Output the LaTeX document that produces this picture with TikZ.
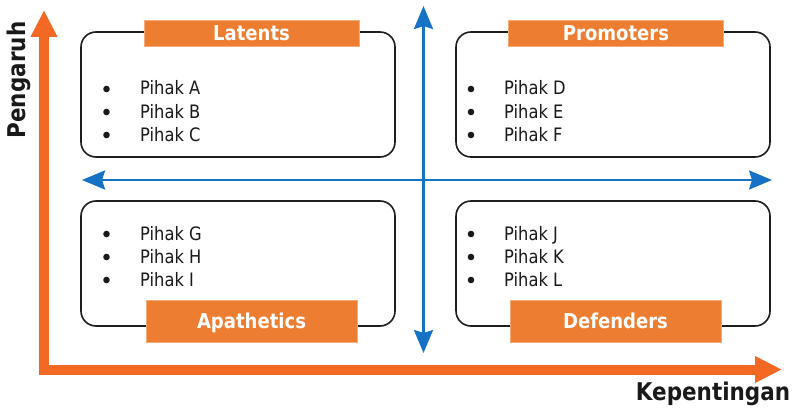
\documentclass[tikz,border=0pt]{standalone}
\usepackage{fontspec}
\setmainfont{DejaVu Sans}[FakeStretch=0.88]
\usetikzlibrary{arrows.meta}
\definecolor{orlab}{RGB}{237,125,49}
\definecolor{orline}{RGB}{246,170,120}
\definecolor{orarr}{RGB}{243,104,34}
\definecolor{blarr}{RGB}{22,114,196}
\definecolor{boxline}{RGB}{30,30,30}
\begin{document}
\begin{tikzpicture}[x=1pt,y=-1pt,
  quad/.style={draw=boxline,line width=1.6pt,rounded corners=15pt,minimum width=314pt,minimum height=125pt,inner sep=0pt},
  lab/.style={fill=orlab,draw=orline,line width=0.8pt,text=white,font=\fontsize{20.5}{22}\selectfont\bfseries,inner sep=0pt,minimum width=215pt,text height=15pt,text depth=0pt},
  toplab/.style={lab,minimum height=26pt},
  botlab/.style={lab,minimum height=42pt,minimum width=211pt},
  item/.style={anchor=base west,inner sep=0pt,font=\fontsize{18.5}{20}\selectfont,text=black!90},
  axis/.style={font=\fontsize{24.4}{26}\selectfont\bfseries,text=black!90,inner sep=0pt},
  orarrow/.style={draw=orarr,line width=10pt,line join=miter,{Triangle[length=27pt,width=25pt]}-{Triangle[length=27pt,width=25pt]}},
  blarrow/.style={draw=blarr,line width=2.6pt,{Stealth[length=23pt,width=19pt,inset=3pt]}-{Stealth[length=23pt,width=19pt,inset=3pt]}}
]
\useasboundingbox (0,0) rectangle (797,409);

% axes
\coordinate (otop) at (44,10);
\coordinate (ocorner) at (44,369.5);
\coordinate (oright) at (782,369.5);
\draw[orarrow] (otop) -- (ocorner) -- (oright);
\node[axis,rotate=90] (yl) at (18.5,80) {Pengaruh};
\node[axis,anchor=base] (xl) at (713,400) {Kepentingan};

% quadrant boxes
\node[quad] (tl) at (238,94.5) {};
\node[quad] (tr) at (613,94.5) {};
\node[quad] (bl) at (238,263.5) {};
\node[quad] (br) at (613,263.5) {};

% blue arrows
\coordinate (vt) at (423.5,6);
\coordinate (vb) at (423.5,353);
\coordinate (hl) at (82,180);
\coordinate (hr) at (772,180);
\draw[blarrow] (vt) -- (vb);
\draw[blarrow] (hl) -- (hr);

% labels
\node[toplab] (latents) at (251.5,33) {Latents};
\node[toplab] (promoters) at (616,33) {Promoters};
\node[botlab] (apathetics) at (251.5,321) {Apathetics};
\node[botlab] (defenders) at (615.5,321) {Defenders};

% items
\foreach \t/\y [count=\i] in {A/95,B/118,C/141}{
  \fill[black!90] (106.5,\y-6) circle (3.3pt);
  \node[item] (ta\i) at (140,\y) {Pihak \t};
}
\foreach \t/\y [count=\i] in {D/95,E/118,F/141}{
  \fill[black!90] (471,\y-6) circle (3.3pt);
  \node[item] (tb\i) at (504,\y) {Pihak \t};
}
\foreach \t/\y [count=\i] in {G/240,H/263,I/286}{
  \fill[black!90] (106.5,\y-6) circle (3.3pt);
  \node[item] (tc\i) at (140,\y) {Pihak \t};
}
\foreach \t/\y [count=\i] in {J/240,K/263,L/286}{
  \fill[black!90] (471,\y-6) circle (3.3pt);
  \node[item] (td\i) at (504,\y) {Pihak \t};
}
\end{tikzpicture}
\end{document}
